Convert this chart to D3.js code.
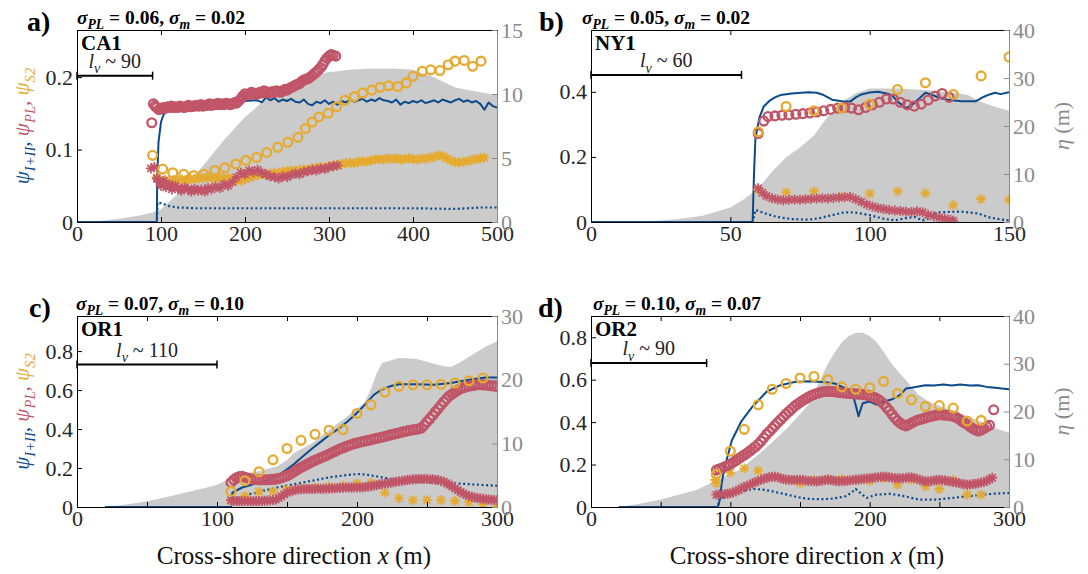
<!DOCTYPE html>
<html><head><meta charset="utf-8">
<script src="https://cdn.jsdelivr.net/npm/d3@7"></script>
<style>
html,body{margin:0;padding:0;background:#fff}
svg text{font-family:'Liberation Serif','DejaVu Serif','Times New Roman',serif;}
</style>
</head><body>
<svg id="chart" width="1088" height="574"></svg>
<script>
// ---------------- DATA ----------------
const panelLetters = ['a)','b)','c)','d)'];
const siteNames = ['CA1','NY1','OR1','OR2'];
const sigmaPL = [0.06, 0.05, 0.07, 0.10];
const sigmaM = [0.02, 0.02, 0.10, 0.07];
const lvLabels = ['90','60','110','90'];
const lvLength = [90, 54, 100, 83];
const lvLevel = [0.202, 0.452, 0.731, 0.678];

const xDomains = [[0,500],[0,150],[0,300],[0,300]];
const leftMax = [0.265, 0.59, 0.98, 0.9];
const rightMax = [15, 40, 30, 40];
const xTicksA = [0,100,200,300,400,500];
const xTicksB = [0,50,100,150];
const xTicksCD = [0,50,100,150,200,250,300];
const xLabelsCD = [0,100,200,300];
const leftTicksA = [0,0.1,0.2];
const leftTicksB = [0,0.2,0.4];
const leftTicksCD = [0,0.2,0.4,0.6,0.8];
const rightTicksA = [0,5,10,15];
const rightTicksB = [0,10,20,30,40];
const rightTicksC = [0,10,20,30];
const rightTicksD = [0,10,20,30,40];

// ---- panel a (CA1)
const etaA = [[0,0],[25,0.05],[50,0.25],[75,0.5],[90,0.75],[100,1.0],[125,2.5],[150,4.4],[175,6.4],[200,8.2],[225,9.6],[250,10.8],[275,11.4],[300,11.7],[325,11.9],[350,12.0],[375,12.0],[400,11.9],[425,11.3],[450,10.5],[475,10.2],[500,9.9]];
const psiIIIA = [[0,0],[95,0],[95.5,0.06],[97,0.11],[100,0.138],[103,0.148],[108,0.155],[115,0.16],[130,0.164],[160,0.166],[200,0.167],[215,0.168],[220,0.165],[225,0.172],[230,0.168],[235,0.171],[240,0.166],[245,0.169],[250,0.167],[255,0.170],[260,0.166],[265,0.165],[270,0.169],[275,0.163],[280,0.161],[285,0.166],[290,0.164],[295,0.168],[300,0.163],[305,0.166],[310,0.162],[315,0.167],[320,0.165],[325,0.169],[330,0.166],[335,0.168],[340,0.170],[345,0.166],[350,0.169],[355,0.167],[360,0.171],[365,0.168],[370,0.167],[375,0.165],[380,0.169],[385,0.162],[390,0.166],[395,0.164],[400,0.167],[405,0.165],[410,0.168],[415,0.164],[420,0.166],[425,0.168],[430,0.165],[435,0.169],[440,0.167],[445,0.165],[450,0.168],[455,0.170],[460,0.166],[465,0.168],[470,0.165],[475,0.167],[480,0.163],[485,0.155],[490,0.165],[495,0.160],[500,0.158]];
const psiMinA = [[0,0],[95,0],[96,0.027],[100,0.026],[110,0.022],[120,0.02],[140,0.019],[200,0.019],[300,0.019],[400,0.019],[450,0.018],[480,0.02],[500,0.02]];
const psiPLcircA = [[89,0.137],[91,0.163],[93,0.16],[95,0.158],[97.5,0.155],[100,0.156],[102.5,0.158],[105,0.157],[107.5,0.159],[110,0.158],[112.5,0.16],[115,0.158],[117.5,0.159],[120,0.158],[122.5,0.16],[125,0.159],[127.5,0.158],[130,0.159],[132.5,0.161],[135,0.159],[137.5,0.16],[140,0.160],[142.5,0.161],[145,0.160],[147.5,0.162],[150,0.160],[152.5,0.161],[155,0.161],[157.5,0.163],[160,0.161],[162.5,0.162],[165,0.162],[167.5,0.164],[170,0.162],[172.5,0.163],[175,0.162],[177.5,0.164],[180,0.163],[182.5,0.162],[185,0.163],[187.5,0.165],[190,0.164],[192.5,0.167],[195,0.170],[197.5,0.174],[200,0.177],[202.5,0.175],[205,0.176],[207.5,0.179],[210,0.178],[212.5,0.176],[215,0.177],[217.5,0.179],[220,0.178],[222.5,0.181],[225,0.180],[227.5,0.178],[230,0.178],[232.5,0.18],[235,0.179],[237.5,0.181],[240,0.180],[242.5,0.179],[245,0.181],[247.5,0.183],[250,0.182],[252.5,0.184],[255,0.186],[257.5,0.187],[260,0.189],[262.5,0.19],[265,0.191],[267.5,0.194],[270,0.196],[272.5,0.197],[275,0.198],[277.5,0.2],[280,0.202],[282.5,0.205],[285,0.207],[287.5,0.21],[290,0.213],[292.5,0.217],[295,0.222],[297.5,0.226],[300,0.229],[302.5,0.231],[305,0.230],[308,0.229]];
const psiPLstarA = [[88,0.074],[92,0.076],[95,0.06],[98,0.055],[100,0.05],[103,0.057],[106,0.048],[110,0.052],[113,0.045],[117,0.05],[120,0.047],[124,0.043],[128,0.048],[132,0.045],[136,0.042],[140,0.046],[144,0.043],[148,0.045],[152,0.042],[156,0.047],[160,0.045],[165,0.049],[170,0.047],[175,0.052],[180,0.05],[185,0.055],[190,0.062],[195,0.068],[200,0.066],[205,0.071],[210,0.069],[215,0.072],[220,0.068],[225,0.066],[230,0.063],[235,0.062],[240,0.06],[245,0.063],[250,0.062],[255,0.065],[260,0.067],[265,0.066],[270,0.069],[275,0.07],[280,0.072],[285,0.071],[290,0.074],[295,0.073],[300,0.076],[305,0.077],[310,0.078]];
const psiS2circA = [[90,0.092],[102,0.073],[114,0.068],[127,0.066],[139,0.064],[151,0.066],[164,0.071],[176,0.075],[189,0.08],[201,0.085],[214,0.089],[226,0.096],[239,0.103],[251,0.11],[263,0.117],[272,0.129],[280,0.138],[288,0.145],[299,0.15],[309,0.159],[319,0.168],[330,0.173],[340,0.178],[351,0.182],[361,0.186],[371,0.188],[382,0.187],[392,0.192],[400,0.201],[411,0.208],[421,0.21],[432,0.209],[442,0.217],[450,0.222],[461,0.223],[471,0.215],[481,0.222]];
const psiS2starA = [[95,0.062],[100,0.055],[105,0.058],[110,0.056],[115,0.058],[120,0.057],[125,0.059],[130,0.058],[135,0.06],[140,0.059],[145,0.061],[150,0.06],[155,0.062],[160,0.061],[165,0.06],[170,0.062],[175,0.06],[180,0.061],[185,0.059],[190,0.058],[195,0.057],[200,0.059],[205,0.061],[210,0.063],[215,0.065],[220,0.066],[225,0.065],[230,0.067],[235,0.068],[240,0.067],[245,0.069],[250,0.07],[255,0.071],[260,0.07],[265,0.072],[270,0.073],[275,0.072],[280,0.074],[285,0.075],[290,0.076],[295,0.075],[300,0.077],[305,0.078],[310,0.079],[315,0.08],[320,0.081],[325,0.082],[330,0.081],[335,0.083],[340,0.084],[345,0.083],[350,0.085],[355,0.086],[360,0.087],[365,0.086],[370,0.088],[375,0.087],[380,0.088],[385,0.086],[390,0.087],[395,0.088],[400,0.087],[405,0.086],[410,0.088],[415,0.087],[420,0.089],[425,0.09],[430,0.092],[435,0.091],[440,0.088],[445,0.085],[450,0.083],[455,0.082],[460,0.083],[465,0.084],[470,0.086],[475,0.087],[480,0.088],[485,0.089]];

// ---- panel b (NY1)
const etaB = [[0,0],[15,0],[20,0.1],[30,0.5],[40,1.3],[50,3.0],[55,4.8],[60,7.0],[65,10.5],[70,13.5],[75,15.5],[80,18],[85,22],[90,25],[95,26.8],[100,27.8],[110,27.8],[120,27.5],[130,27],[135,26.5],[140,25],[145,24],[150,23.2]];
const psiIIIB = [[0,0],[58,0],[58.5,0.15],[59,0.256],[60.4,0.32],[62,0.355],[64,0.372],[66,0.383],[68,0.39],[72,0.395],[78,0.399],[81,0.397],[83,0.392],[85,0.383],[86.5,0.376],[90,0.371],[93,0.37],[95,0.383],[97,0.392],[100,0.398],[103,0.4],[106,0.395],[108,0.39],[110,0.37],[113,0.35],[115,0.358],[118,0.381],[120,0.397],[122,0.392],[125,0.381],[128,0.376],[133,0.371],[138,0.371],[141,0.385],[143,0.392],[145,0.397],[147,0.393],[150,0.399]];
const psiMinB = [[0,0],[58,0],[59,0.037],[63,0.025],[67,0.015],[72,0.009],[78,0.007],[82,0.012],[87,0.022],[91,0.03],[95,0.029],[100,0.021],[105,0.01],[109,0.005],[113,0.012],[116,0.016],[119,0.005],[121,0.01],[124,0.029],[128,0.031],[133,0.032],[139,0.026],[143,0.014],[147,0.008],[150,0.005]];
const psiPLcircB = [[60,0.272],[62,0.31],[63.5,0.324],[66,0.326],[68.5,0.328],[71,0.329],[73.5,0.331],[76,0.333],[78.5,0.335],[81,0.338],[83.5,0.342],[86,0.346],[88.5,0.35],[91,0.352],[93.5,0.35],[96,0.345],[98.5,0.352],[101,0.36],[103.5,0.368],[106,0.378],[108.5,0.378],[111,0.368],[113.5,0.36],[116,0.356],[118.5,0.362],[121,0.375],[123.5,0.387],[126,0.395],[128.5,0.383]];
const psiPLstarB = [[60,0.104],[61.5,0.09],[63,0.08],[65,0.073],[67,0.069],[69,0.067],[71,0.068],[73,0.069],[75,0.068],[77,0.07],[79,0.071],[81,0.072],[83,0.073],[85,0.072],[87,0.074],[89,0.075],[91,0.076],[93,0.077],[95,0.07],[97,0.062],[99,0.054],[101,0.048],[103,0.043],[105,0.04],[107,0.037],[109,0.035],[111,0.034],[113,0.032],[115,0.031],[117,0.033],[119,0.03],[121,0.022],[123,0.018],[125,0.014],[127,0.01],[129,0.006],[130,0.004]];
const psiS2circB = [[60,0.277],[70,0.355],[80,0.342],[90,0.35],[100,0.362],[110,0.407],[120,0.428],[130,0.392],[140,0.449],[150,0.507]];
const psiS2starB = [[60,0.099],[70,0.091],[80,0.094],[90,0.078],[100,0.087],[110,0.094],[120,0.089],[130,0.052],[140,0.07],[150,0.068]];

// ---- panel c (OR1)
const etaC = [[20,0],[26,0.15],[35,0.4],[50,0.9],[65,1.6],[76,2.2],[90,2.9],[100,3.5],[108,4.3],[118,5.2],[130,5.6],[143,6.4],[150,7.4],[155,8.5],[168,10],[180,12.1],[193,14.2],[205,16.3],[210,18.5],[214,21],[218,22.6],[225,23.1],[230,23.4],[242,23.3],[250,22.8],[255,22.5],[262,22.1],[267,22],[273,22.6],[280,23.6],[292,25.2],[300,26]];
const psiIIIC = [[20,0],[110,0],[111,0.074],[118,0.1],[124,0.113],[130,0.126],[136,0.14],[143,0.16],[149,0.188],[155,0.22],[161,0.258],[168,0.3],[174,0.334],[180,0.368],[187,0.402],[193,0.437],[199,0.476],[205,0.52],[212,0.575],[216,0.595],[220,0.61],[225,0.622],[230,0.63],[242,0.63],[255,0.627],[267,0.636],[280,0.653],[292,0.665],[300,0.665]];
const psiMinC = [[20,0],[110,0],[111,0.04],[117,0.055],[123,0.066],[133,0.083],[143,0.1],[155,0.117],[168,0.135],[180,0.152],[193,0.164],[200,0.169],[206,0.167],[212,0.16],[218,0.152],[225,0.143],[233,0.136],[242,0.13],[255,0.126],[267,0.123],[280,0.117],[292,0.112],[300,0.109]];
const psiPLcircC = [[110,0.126],[112,0.14],[114,0.15],[116,0.156],[118,0.158],[120,0.153],[122,0.148],[124,0.145],[126,0.142],[128,0.141],[130,0.14],[132,0.14],[134,0.14],[136,0.14],[138,0.141],[140,0.142],[142,0.143],[144,0.146],[146,0.15],[148,0.155],[150,0.16],[152,0.168],[154,0.176],[156,0.186],[158,0.195],[160,0.203],[162,0.21],[164,0.218],[166,0.226],[168,0.233],[170,0.24],[172,0.246],[174,0.252],[176,0.258],[178,0.264],[180,0.271],[182,0.278],[184,0.285],[186,0.292],[188,0.298],[190,0.304],[192,0.31],[194,0.315],[196,0.32],[198,0.325],[200,0.328],[202,0.332],[204,0.336],[206,0.339],[208,0.342],[210,0.345],[212,0.349],[214,0.352],[216,0.355],[218,0.359],[220,0.362],[222,0.366],[224,0.37],[226,0.373],[228,0.377],[230,0.38],[232,0.384],[234,0.387],[236,0.391],[238,0.394],[240,0.396],[242,0.398],[244,0.401],[246,0.405],[248,0.42],[250,0.437],[252,0.453],[254,0.47],[256,0.488],[258,0.505],[260,0.523],[262,0.54],[264,0.556],[266,0.57],[268,0.58],[270,0.59],[272,0.599],[274,0.607],[276,0.612],[278,0.617],[280,0.62],[282,0.623],[284,0.625],[286,0.627],[288,0.627],[290,0.627],[292,0.626],[294,0.624],[296,0.622],[298,0.62],[300,0.619]];
const psiPLstarC = [[110,0.035],[112,0.032],[114,0.031],[116,0.03],[118,0.03],[120,0.031],[122,0.031],[124,0.03],[126,0.03],[128,0.031],[130,0.031],[132,0.031],[134,0.032],[136,0.033],[138,0.034],[140,0.036],[142,0.038],[144,0.046],[146,0.055],[148,0.065],[150,0.074],[152,0.079],[154,0.083],[156,0.087],[158,0.09],[160,0.091],[162,0.092],[164,0.092],[166,0.092],[168,0.092],[170,0.092],[172,0.093],[174,0.093],[176,0.094],[178,0.094],[180,0.095],[182,0.095],[184,0.096],[186,0.097],[188,0.098],[190,0.099],[192,0.1],[194,0.1],[196,0.1],[198,0.1],[200,0.1],[202,0.1],[204,0.101],[206,0.103],[208,0.105],[210,0.107],[212,0.11],[214,0.112],[216,0.115],[218,0.118],[220,0.12],[222,0.122],[224,0.125],[226,0.127],[228,0.13],[230,0.132],[232,0.134],[234,0.136],[236,0.138],[238,0.14],[240,0.142],[242,0.143],[244,0.144],[246,0.144],[248,0.144],[250,0.144],[252,0.143],[254,0.142],[256,0.14],[258,0.138],[260,0.134],[262,0.13],[264,0.122],[266,0.114],[268,0.105],[270,0.095],[272,0.086],[274,0.077],[276,0.069],[278,0.062],[280,0.057],[282,0.052],[284,0.049],[286,0.046],[288,0.044],[290,0.042],[292,0.04],[294,0.039],[296,0.037],[298,0.036],[300,0.035]];
const psiS2circC = [[110,0.08],[120,0.135],[130,0.181],[140,0.242],[150,0.3],[160,0.342],[170,0.373],[180,0.394],[190,0.397],[200,0.48],[210,0.524],[220,0.589],[230,0.619],[240,0.627],[250,0.627],[260,0.63],[270,0.636],[280,0.648],[290,0.662]];
const psiS2starC = [[110,0.031],[120,0.057],[130,0.078],[140,0.08],[150,0.09],[160,0.095],[170,0.1],[180,0.105],[190,0.109],[200,0.121],[210,0.123],[220,0.074],[230,0.045],[240,0.035],[250,0.036],[260,0.036],[270,0.031],[280,0.026],[290,0.014],[300,0.005]];

// ---- panel d (OR2)
const etaD = [[20,0],[35,0.7],[51,1.6],[65,2.7],[76,3.6],[91,5.7],[106,7.7],[121,11.2],[131,13.8],[141,16.6],[150,19.4],[156,21.4],[161,24.4],[166,27.6],[170,30],[175,32.4],[180,34.5],[185,35.8],[190,36.5],[195,36.5],[200,35.8],[205,34.5],[210,32.5],[215,30.3],[220,28.5],[225,26.9],[230,25.2],[235,23.5],[241,22.3],[248,21.4],[260,20.1],[273,18.7],[285,17.3],[292,16.3],[300,15.6]];
const psiIIID = [[20,0],[91,0],[92,0.02],[94,0.12],[96,0.189],[101,0.312],[108,0.405],[116,0.474],[126,0.543],[136,0.574],[146,0.589],[156,0.592],[166,0.589],[175,0.582],[183,0.558],[188,0.528],[190,0.48],[192,0.428],[195,0.489],[200,0.497],[205,0.482],[210,0.497],[215,0.505],[220,0.52],[223,0.535],[226,0.558],[230,0.562],[240,0.574],[246,0.572],[253,0.577],[259,0.573],[265,0.577],[272,0.572],[278,0.574],[284,0.566],[290,0.562],[295,0.558],[300,0.555]];
const psiMinD = [[20,0],[91,0],[92,0.035],[97,0.052],[103,0.066],[110,0.077],[116,0.085],[122,0.083],[128,0.077],[134,0.068],[141,0.058],[148,0.047],[156,0.038],[164,0.037],[171,0.038],[177,0.043],[183,0.051],[187,0.068],[190,0.085],[194,0.062],[198,0.043],[202,0.052],[205,0.058],[215,0.062],[225,0.051],[235,0.035],[248,0.035],[260,0.043],[275,0.054],[290,0.063],[300,0.066]];
const psiPLcircD = [[90,0.174],[92,0.179],[94,0.184],[96,0.19],[98,0.195],[100,0.202],[102,0.21],[104,0.219],[106,0.228],[108,0.236],[110,0.245],[112,0.254],[114,0.264],[116,0.274],[118,0.284],[120,0.296],[122,0.31],[124,0.326],[126,0.343],[128,0.356],[130,0.37],[132,0.384],[134,0.398],[136,0.411],[138,0.425],[140,0.438],[142,0.45],[144,0.462],[146,0.474],[148,0.484],[150,0.493],[152,0.502],[154,0.51],[156,0.518],[158,0.525],[160,0.53],[162,0.535],[164,0.539],[166,0.543],[168,0.544],[170,0.545],[172,0.545],[174,0.544],[176,0.542],[178,0.54],[180,0.538],[182,0.537],[184,0.536],[186,0.535],[188,0.534],[190,0.533],[192,0.532],[194,0.531],[196,0.529],[198,0.527],[200,0.524],[202,0.52],[204,0.515],[206,0.508],[208,0.498],[210,0.485],[212,0.47],[214,0.455],[216,0.437],[218,0.42],[220,0.406],[222,0.395],[224,0.387],[226,0.382],[228,0.388],[230,0.395],[232,0.402],[234,0.408],[236,0.412],[238,0.416],[240,0.42],[242,0.424],[244,0.427],[246,0.43],[248,0.433],[250,0.435],[252,0.434],[254,0.433],[256,0.432],[258,0.43],[260,0.427],[262,0.423],[264,0.415],[266,0.405],[268,0.397],[270,0.389],[272,0.379],[274,0.37],[276,0.363],[278,0.358],[280,0.363],[282,0.37],[284,0.378],[286,0.385],[289,0.458]];
const psiPLstarD = [[90,0.058],[92,0.059],[94,0.06],[96,0.061],[98,0.062],[100,0.065],[102,0.068],[104,0.074],[106,0.08],[108,0.087],[110,0.094],[112,0.1],[114,0.105],[116,0.112],[118,0.118],[120,0.123],[122,0.128],[124,0.133],[126,0.137],[128,0.14],[130,0.143],[132,0.142],[134,0.14],[136,0.136],[138,0.132],[140,0.13],[142,0.128],[144,0.127],[146,0.127],[148,0.128],[150,0.128],[152,0.127],[154,0.125],[156,0.123],[158,0.122],[160,0.121],[162,0.12],[164,0.122],[166,0.125],[168,0.127],[170,0.128],[172,0.127],[174,0.125],[176,0.123],[178,0.121],[180,0.121],[182,0.122],[184,0.124],[186,0.126],[188,0.127],[190,0.128],[192,0.13],[194,0.131],[196,0.133],[198,0.134],[200,0.136],[202,0.137],[204,0.139],[206,0.14],[208,0.142],[210,0.143],[212,0.142],[214,0.14],[216,0.138],[218,0.136],[220,0.135],[222,0.135],[224,0.136],[226,0.138],[228,0.139],[230,0.14],[232,0.137],[234,0.133],[236,0.128],[238,0.124],[240,0.121],[242,0.12],[244,0.122],[246,0.125],[248,0.127],[250,0.128],[252,0.127],[254,0.125],[256,0.122],[258,0.12],[260,0.118],[262,0.116],[264,0.113],[266,0.11],[268,0.107],[270,0.105],[272,0.106],[274,0.108],[276,0.11],[278,0.112],[280,0.115],[282,0.118],[284,0.124],[286,0.13],[288,0.138]];
const psiS2circD = [[90,0.154],[100,0.263],[110,0.366],[120,0.482],[130,0.555],[140,0.582],[150,0.608],[160,0.615],[170,0.6],[180,0.566],[190,0.555],[200,0.562],[210,0.592],[220,0.535],[230,0.505],[240,0.474],[250,0.478],[260,0.466],[270,0.405],[280,0.408]];
const psiS2starD = [[89,0.128],[90,0.112],[100,0.162],[110,0.182],[120,0.171],[130,0.143],[140,0.128],[150,0.112],[160,0.128],[170,0.132],[180,0.132],[190,0.128],[200,0.123],[210,0.135],[220,0.105],[230,0.128],[240,0.097],[250,0.085],[260,0.128],[270,0.058],[280,0.058]];

// ---------------- STYLE / LAYOUT ----------------
const FONT = "'Liberation Serif','DejaVu Serif','Times New Roman',serif";
const C_BLUE = '#0b4a8b', C_RED = '#c15568', C_YEL = '#e5aa2f', C_GRAY = '#cbcbcb', C_AX2 = '#8a8a8a';
const TICK_FS = 22;
const layout = [
  {x0:77, x1:497, y0:30, y1:222, letterX:27, titleX:77},
  {x0:591, x1:1009, y0:30, y1:222, letterX:539, titleX:582},
  {x0:77, x1:497, y0:316, y1:507, letterX:29, titleX:76},
  {x0:591, x1:1009, y0:316, y1:507, letterX:538, titleX:593}
];
const panels = [
  {eta:etaA, solid:psiIIIA, dot:psiMinA, plC:psiPLcircA, plS:psiPLstarA, s2C:psiS2circA, s2S:psiS2starA, xt:xTicksA, xl:xTicksA, lt:leftTicksA, rt:rightTicksA, yLabel:true, rLabel:false, xLabel:false},
  {eta:etaB, solid:psiIIIB, dot:psiMinB, plC:psiPLcircB, plS:psiPLstarB, s2C:psiS2circB, s2S:psiS2starB, xt:xTicksB, xl:xTicksB, lt:leftTicksB, rt:rightTicksB, yLabel:false, rLabel:true, xLabel:false},
  {eta:etaC, solid:psiIIIC, dot:psiMinC, plC:psiPLcircC, plS:psiPLstarC, s2C:psiS2circC, s2S:psiS2starC, xt:xTicksCD, xl:xLabelsCD, lt:leftTicksCD, rt:rightTicksC, yLabel:true, rLabel:false, xLabel:true},
  {eta:etaD, solid:psiIIID, dot:psiMinD, plC:psiPLcircD, plS:psiPLstarD, s2C:psiS2circD, s2S:psiS2starD, xt:xTicksCD, xl:xLabelsCD, lt:leftTicksCD, rt:rightTicksD, yLabel:false, rLabel:true, xLabel:true}
];

const svg = d3.select('#chart');
const STAR = 'M0,-5L0,5M-5,0L5,0M-3.6,-3.6L3.6,3.6M-3.6,3.6L3.6,-3.6';

function rich(parent, x, y, parts, size, opts) {
  opts = opts || {};
  const t = parent.append('text').attr('x', x).attr('y', y)
    .style('font-family', FONT).style('font-size', size + 'px');
  if (opts.anchor) t.attr('text-anchor', opts.anchor);
  if (opts.transform) t.attr('transform', opts.transform);
  if (opts.weight) t.style('font-weight', opts.weight);
  if (opts.fill) t.attr('fill', opts.fill);
  let shift = 0;
  parts.forEach(p => {
    const s = t.append('tspan').text(p.t);
    const target = p.sub ? size * 0.28 : 0;
    if (target !== shift) { s.attr('dy', target - shift); shift = target; }
    if (p.sub) s.style('font-size', (size * 0.7) + 'px');
    if (p.it) s.style('font-style', 'italic');
    if (p.fill) s.attr('fill', p.fill);
  });
  return t;
}

const fmtL = d => d === 0 ? '0' : String(d);

panels.forEach((p, i) => {
  const L = layout[i];
  const x = d3.scaleLinear().domain(xDomains[i]).range([L.x0, L.x1]);
  const yL = d3.scaleLinear().domain([0, leftMax[i]]).range([L.y1, L.y0]);
  const yR = d3.scaleLinear().domain([0, rightMax[i]]).range([L.y1, L.y0]);
  const g = svg.append('g');
  const clipId = 'clip' + i;
  svg.append('clipPath').attr('id', clipId).append('rect')
    .attr('x', L.x0).attr('y', L.y0).attr('width', L.x1 - L.x0).attr('height', L.y1 - L.y0);
  const pg = g.append('g').attr('clip-path', `url(#${clipId})`);

  pg.append('path').datum(p.eta)
    .attr('d', d3.area().x(d => x(d[0])).y0(yR(0)).y1(d => yR(d[1])))
    .attr('fill', C_GRAY);

  const line = d3.line().x(d => x(d[0])).y(d => yL(d[1]));
  pg.append('path').datum(p.solid).attr('d', line)
    .attr('fill', 'none').attr('stroke', C_BLUE).attr('stroke-width', 2).attr('stroke-linejoin', 'round');
  pg.append('path').datum(p.dot).attr('d', line)
    .attr('fill', 'none').attr('stroke', C_BLUE).attr('stroke-width', 2.2).attr('stroke-dasharray', '2,2.6');

  const stars = (data, color) => pg.append('g').selectAll('path').data(data).join('path')
    .attr('d', STAR).attr('transform', d => `translate(${x(d[0])},${yL(d[1])})`)
    .attr('fill', 'none').attr('stroke', color).attr('stroke-width', 1.7);
  const circles = (data, color) => pg.append('g').selectAll('circle').data(data).join('circle')
    .attr('cx', d => x(d[0])).attr('cy', d => yL(d[1])).attr('r', 4.4)
    .attr('fill', 'none').attr('stroke', color).attr('stroke-width', 2.3);

  stars(p.s2S, C_YEL);
  stars(p.plS, C_RED);
  circles(p.plC, C_RED);
  circles(p.s2C, C_YEL);

  const styleAxis = (sel, color) => {
    sel.attr('font-family', null).attr('font-size', null);
    sel.selectAll('text').style('font-family', FONT).style('font-size', TICK_FS + 'px');
    sel.selectAll('.domain').attr('stroke', color).attr('stroke-width', 1);
    sel.selectAll('.tick line').attr('stroke', color).attr('stroke-width', 1);
    sel.selectAll('.tick text').attr('fill', color === '#000' ? '#262626' : color);
  };
  const xb = g.append('g').attr('transform', `translate(0,${L.y1})`)
    .call(d3.axisBottom(x).tickValues(p.xt).tickSizeInner(-5).tickSizeOuter(0).tickPadding(3)
      .tickFormat(d => p.xl.includes(d) ? String(d) : ''));
  styleAxis(xb, '#000');
  const xt = g.append('g').attr('transform', `translate(0,${L.y0})`)
    .call(d3.axisTop(x).tickValues(p.xt).tickSizeInner(-5).tickSizeOuter(0).tickFormat(''));
  styleAxis(xt, '#000');
  const yl = g.append('g').attr('transform', `translate(${L.x0},0)`)
    .call(d3.axisLeft(yL).tickValues(p.lt).tickSizeInner(-5).tickSizeOuter(0).tickPadding(4).tickFormat(fmtL));
  styleAxis(yl, '#000');
  const yr = g.append('g').attr('transform', `translate(${L.x1},0)`)
    .call(d3.axisRight(yR).tickValues(p.rt).tickSizeInner(-5).tickSizeOuter(0).tickPadding(4));
  styleAxis(yr, C_AX2);

  svg.append('text').attr('x', L.letterX).attr('y', L.y0 + 1).text(panelLetters[i])
    .style('font-family', FONT).style('font-size', '28px').style('font-weight', 'bold').attr('fill', '#000');
  rich(svg, L.titleX, L.y0 - 6, [
    {t:'σ', it:1}, {t:'PL', sub:1, it:1}, {t:' = ' + sigmaPL[i].toFixed(2) + ', '},
    {t:'σ', it:1}, {t:'m', sub:1, it:1}, {t:' = ' + sigmaM[i].toFixed(2)}
  ], 19.5, {weight:'bold', fill:'#000'});

  g.append('text').attr('x', L.x0 + 4).attr('y', L.y0 + 20).text(siteNames[i])
    .style('font-family', FONT).style('font-size', '21px').style('font-weight', 'bold').attr('fill', '#000');

  const ly = yL(lvLevel[i]);
  const lx0 = x(0), lx1 = x(lvLength[i]);
  g.append('line').attr('x1', lx0).attr('x2', lx1).attr('y1', ly).attr('y2', ly)
    .attr('stroke', '#000').attr('stroke-width', 2);
  [lx0, lx1].forEach(cx => g.append('line').attr('x1', cx).attr('x2', cx)
    .attr('y1', ly - 4).attr('y2', ly + 4).attr('stroke', '#000').attr('stroke-width', 1.5));
  rich(g, (lx0 + lx1) / 2, ly - 8, [
    {t:'l', it:1}, {t:'v', sub:1, it:1}, {t:' ~ ' + lvLabels[i]}
  ], 20, {anchor:'middle', fill:'#222'});

  const cy = (L.y0 + L.y1) / 2;
  if (p.yLabel) {
    rich(svg, 0, 0, [
      {t:'ψ', it:1, fill:C_BLUE}, {t:'I+II', sub:1, it:1, fill:C_BLUE}, {t:', ', fill:C_BLUE},
      {t:'ψ', it:1, fill:C_RED}, {t:'PL', sub:1, it:1, fill:C_RED}, {t:', ', fill:C_RED},
      {t:'ψ', it:1, fill:C_YEL}, {t:'S2', sub:1, it:1, fill:C_YEL}
    ], 21, {anchor:'middle', transform:`translate(29,${cy}) rotate(-90)`});
  }
  if (p.rLabel) {
    rich(svg, 0, 0, [{t:'η', it:1}, {t:' (m)'}], 22,
      {anchor:'middle', transform:`translate(1069,${cy}) rotate(-90)`, fill:C_AX2});
  }
  if (p.xLabel) {
    rich(svg, (L.x0 + L.x1) / 2 + 7, 564, [
      {t:'Cross-shore direction '}, {t:'x', it:1}, {t:' (m)'}
    ], 25, {anchor:'middle', fill:'#111'});
  }
});
</script>
</body></html>
